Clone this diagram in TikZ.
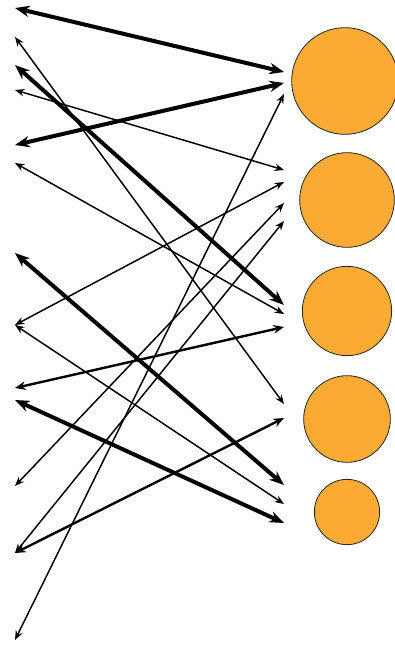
\documentclass[tikz,border=0pt]{standalone}
\usepackage{tikz}
\usetikzlibrary{positioning,arrows.meta}
\usepackage{xcolor}
\definecolor{ballorange}{RGB}{251,171,51}

\begin{document}
\begin{tikzpicture}[
  x=0.75pt, y=-0.75pt,
  ball/.style={draw=black!85, circle, fill=ballorange, line width=0.6pt, inner sep=0pt},
  heavylink/.style={{Stealth[length=11pt,width=8.5pt]}-{Stealth[length=11pt,width=8.5pt]}, line width=3pt},
  midlink/.style={{Stealth[length=8pt,width=6.5pt]}-{Stealth[length=8pt,width=6.5pt]}, line width=1.8pt},
  lightlink/.style={{Stealth[length=7pt,width=5.5pt]}-{Stealth[length=7pt,width=5.5pt]}, line width=1.1pt}]

\useasboundingbox (0,0) rectangle (394,648);

% servers
\node[ball, minimum size=80pt] (s1) at (345,81) {};
\node[ball, minimum size=71pt] (s2) at (347,200) {};
\node[ball, minimum size=67pt] (s3) at (347,311) {};
\node[ball, minimum size=65pt] (s4) at (347,419) {};
\node[ball, minimum size=49pt] (s5) at (347,512) {};

% clients
\coordinate (c1) at (15,8);
\coordinate (c2) at (15,37);
\coordinate (c3) at (15,65);
\coordinate (c4) at (15,90);
\coordinate (c5) at (15,145);
\coordinate (c6) at (15,163);
\coordinate (c7) at (15,253);
\coordinate (c8) at (15,325);
\coordinate (c9) at (15,388);
\coordinate (c10) at (15,400);
\coordinate (c11) at (15,486);
\coordinate (c12) at (15,553);
\coordinate (c13) at (15,640);

% ports
\coordinate (p1) at (284,72);
\coordinate (p2) at (284,83);
\coordinate (p3) at (284,94);
\coordinate (p4) at (284,170);
\coordinate (p5) at (284,182);
\coordinate (p6) at (284,203);
\coordinate (p7) at (284,221);
\coordinate (p8) at (284,305);
\coordinate (p9) at (284,314);
\coordinate (p10) at (284,327);
\coordinate (p11) at (284,404);
\coordinate (p12) at (284,418);
\coordinate (p13) at (284,485);
\coordinate (p14) at (284,504);
\coordinate (p15) at (284,523);

\draw[heavylink] (c1) -- (p1);
\draw[lightlink] (c2) -- (p11);
\draw[heavylink] (c3) -- (p8);
\draw[lightlink] (c4) -- (p4);
\draw[heavylink] (c5) -- (p2);
\draw[lightlink] (c6) -- (p9);
\draw[heavylink] (c7) -- (p13);
\draw[lightlink] (c8) -- (p5);
\draw[lightlink] (c8) -- (p14);
\draw[midlink] (c9) -- (p10);
\draw[heavylink] (c10) -- (p15);
\draw[lightlink] (c11) -- (p6);
\draw[lightlink] (c12) -- (p7);
\draw[midlink] (c12) -- (p12);
\draw[lightlink] (c13) -- (p3);

\end{tikzpicture}
\end{document}
